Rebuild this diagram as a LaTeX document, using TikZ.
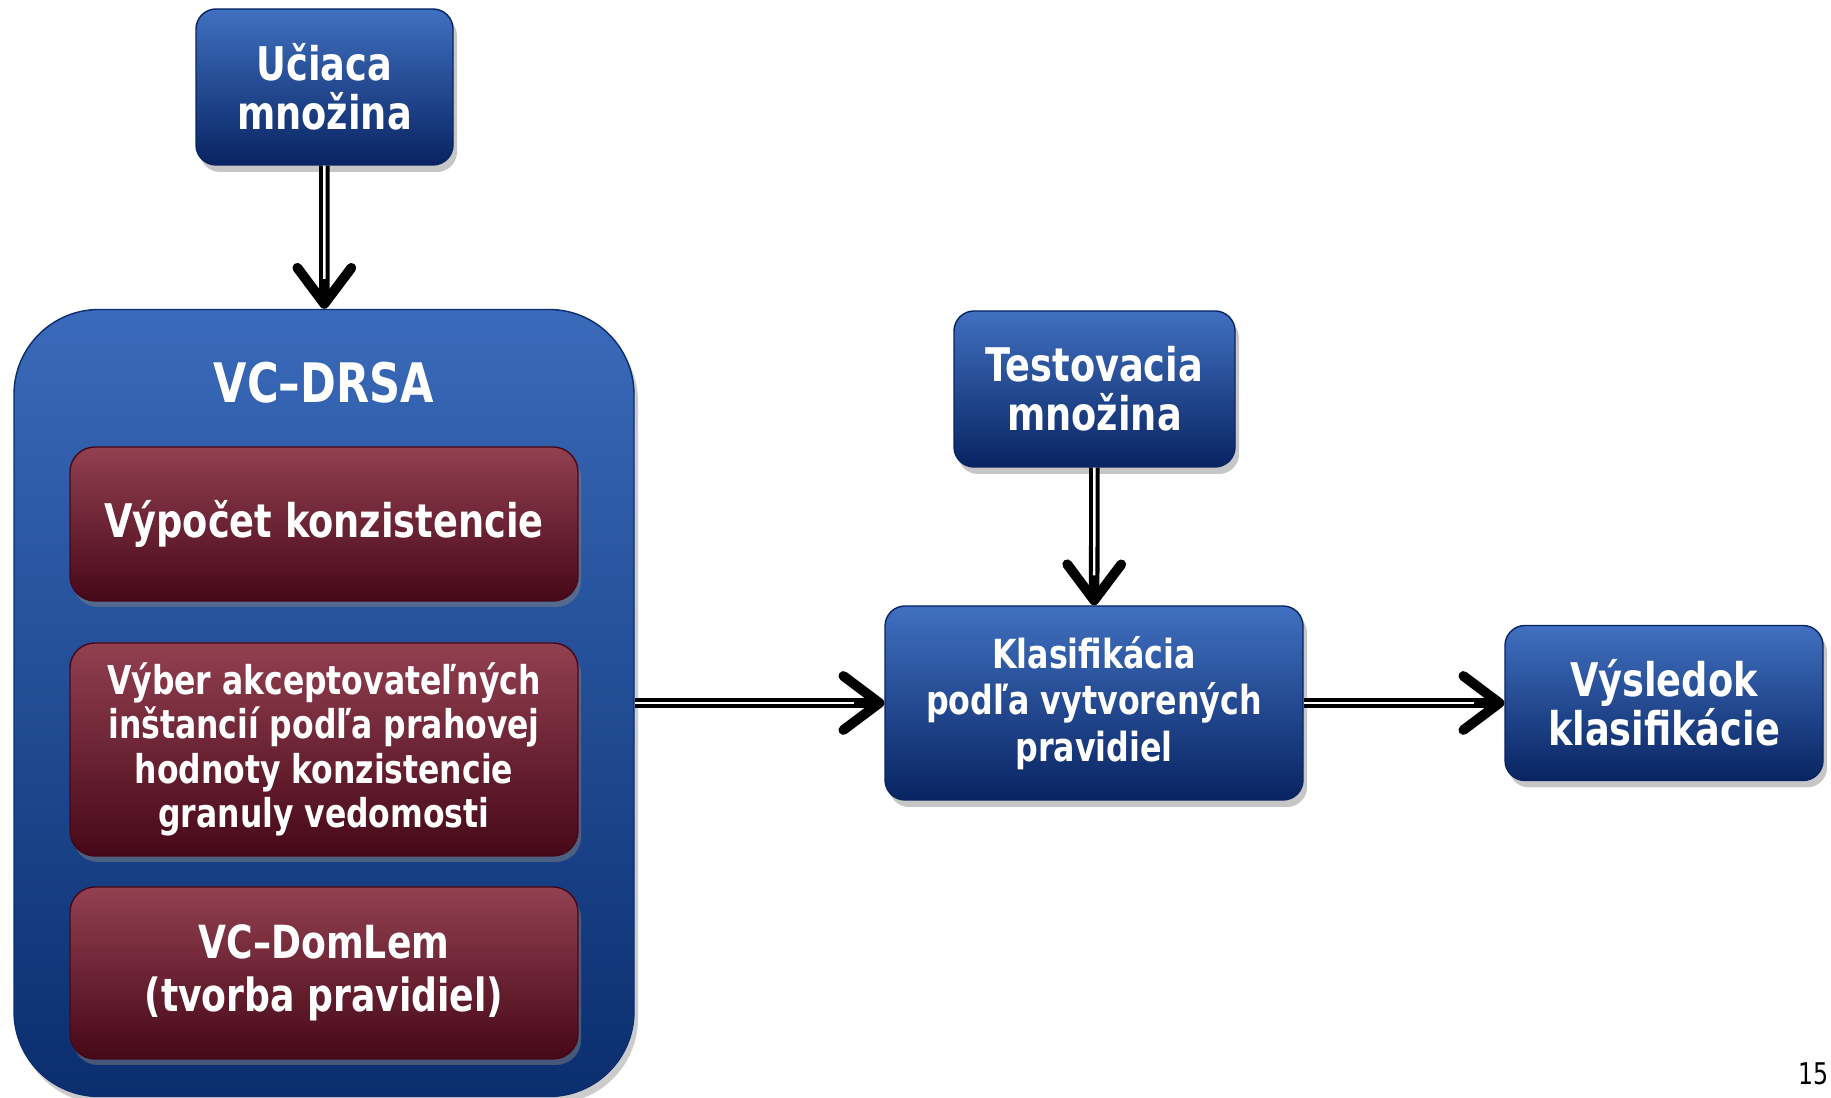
\documentclass[tikz,border=0pt]{standalone}
\usepackage{fontspec}
\setmainfont{DejaVu Sans Condensed}[FakeStretch=0.88]
\usetikzlibrary{arrows.meta,shadows}
\definecolor{bluetop}{RGB}{64,112,192}
\definecolor{bluebot}{RGB}{8,36,98}
\definecolor{outertop}{RGB}{58,106,186}
\definecolor{outerbot}{RGB}{10,46,110}
\definecolor{redtop}{RGB}{146,64,80}
\definecolor{redbot}{RGB}{70,8,24}

\tikzset{
  bluebox/.style={rectangle, rounded corners=0.2cm, top color=bluetop, bottom color=bluebot,
    draw=bluebot, text=white, align=center,
    drop shadow={shadow xshift=0.04cm, shadow yshift=-0.07cm, opacity=0.45}},
  redbox/.style={rectangle, rounded corners=0.25cm, top color=redtop, bottom color=redbot,
    draw=redbot, text=white, align=center, minimum width=5.08cm,
    drop shadow={shadow xshift=0.03cm, shadow yshift=-0.06cm, opacity=0.5}},
  outerbox/.style={rectangle, rounded corners=0.85cm, top color=outertop, bottom color=outerbot,
    draw=outerbot, drop shadow={shadow xshift=0.04cm, shadow yshift=-0.07cm, opacity=0.4}},
  flow/.style={line width=3pt, -{Straight Barb[length=0.36cm,width=0.54cm,line width=2.8pt,round]},
    postaction={draw, white, line width=0.7pt, -, shorten >=0.3cm}}
}

\begin{document}
\begin{tikzpicture}
\useasboundingbox (0,0) rectangle (18.31,10.98);
% vstupy
\node[bluebox, minimum width=2.57cm, minimum height=1.56cm,
  font=\bfseries\fontsize{13.2}{14}\selectfont] (ucm) at (3.245,10.11) {Učiaca\\množina};
\node[bluebox, minimum width=2.81cm, minimum height=1.56cm,
  font=\bfseries\fontsize{13.2}{14}\selectfont] (tsm) at (10.945,7.09) {Testovacia\\množina};
% VC-DRSA
\node[outerbox, minimum width=6.2cm, minimum height=7.87cm] (drsa) at (3.24,3.95) {};
\node[text=white, font=\bfseries\fontsize{15.5}{17}\selectfont] (drsat) at (3.24,7.15) {VC–DRSA};
\node[redbox, minimum height=1.54cm, font=\bfseries\fontsize{13.2}{14}\selectfont]
  (kons) at (3.24,5.74) {Výpočet konzistencie};
\node[redbox, minimum height=2.13cm, font=\bfseries\fontsize{11.3}{12.6}\selectfont]
  (vyber) at (3.24,3.485) {Výber akceptovateľných\\inštancií podľa prahovej\\hodnoty konzistencie\\granuly vedomosti};
\node[redbox, minimum height=1.72cm, font=\bfseries\fontsize{13}{15}\selectfont]
  (doml) at (3.24,1.25) {VC–DomLem\\(tvorba pravidiel)};
% klasifikacia
\node[bluebox, minimum width=4.18cm, minimum height=1.94cm,
  font=\bfseries\fontsize{11.4}{13.3}\selectfont] (klas) at (10.94,3.95) {Klasifikácia\\podľa vytvorených\\pravidiel};
\node[bluebox, minimum width=3.18cm, minimum height=1.55cm,
  font=\bfseries\fontsize{13.2}{14}\selectfont] (vys) at (16.64,3.95) {Výsledok\\klasifikácie};
\node[anchor=east, inner sep=0pt, font=\fontsize{8.5}{10}\selectfont] (pgno) at (18.29,0.24) {15};
% sipky
\draw[flow] (ucm) -- (drsa);
\draw[flow] (tsm) -- (klas);
\draw[flow] (drsa) -- (klas);
\draw[flow] (klas) -- (vys);
\end{tikzpicture}
\end{document}
